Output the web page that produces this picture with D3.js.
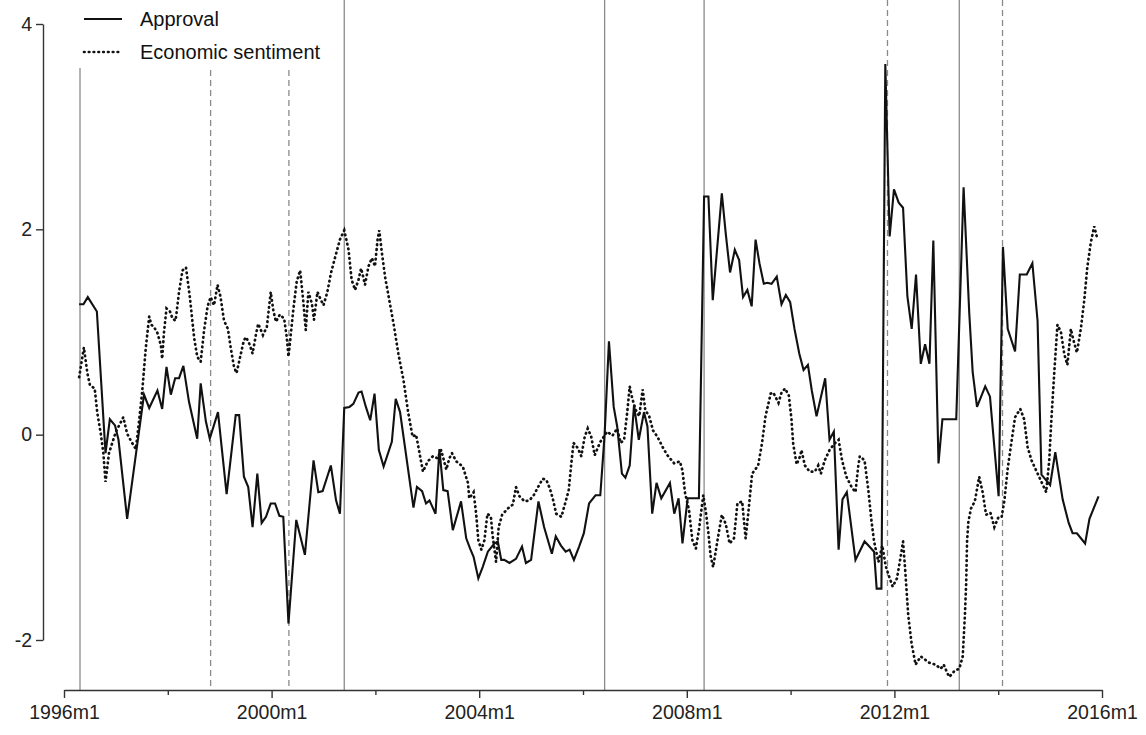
<!DOCTYPE html>
<html>
<head>
<meta charset="utf-8">
<script src="https://cdn.jsdelivr.net/npm/d3@7"></script>
<style>
  body { margin: 0; background: #fff; }
  svg { display: block; font-family: "Liberation Sans", Arial, sans-serif; }
</style>
</head>
<body>
<svg id="chart" width="1146" height="735"></svg>
<script>
// months counted from 1996m1 (0) to 2016m1 (240)
var tickMonths = [0, 48, 96, 144, 192, 240];
var tickLabels = ["1996m1", "2000m1", "2004m1", "2008m1", "2012m1", "2016m1"];
var minorMonths = [24, 72, 120, 168, 216];
var yTicks = [-2, 0, 2, 4];

// elections (solid) and government changes (dashed)
var electionMonths = [3.7, 64.8, 125, 148, 207];
var changeMonths = [33.9, 52, 190.4, 217];

var seriesNames = ["Approval", "Economic sentiment"];

// [month, value]
var approval = [
  [3.5,1.27],[4.5,1.27],[5.5,1.34],[7.6,1.20],[9.6,-0.18],[10.6,0.15],[11.8,0.09],[12.6,-0.05],
  [14.6,-0.82],[18.5,0.39],[19.7,0.26],[21.6,0.43],[22.7,0.25],[23.7,0.66],[24.7,0.39],[25.7,0.55],
  [26.6,0.55],[27.6,0.67],[28.9,0.32],[30.8,-0.04],[31.6,0.50],[32.8,0.13],[33.7,-0.04],[35.6,0.22],
  [37.6,-0.58],[39.7,0.19],[40.5,0.19],[41.6,-0.41],[42.6,-0.51],[43.6,-0.90],[44.7,-0.38],[45.7,-0.86],
  [46.7,-0.80],[47.8,-0.67],[48.8,-0.67],[49.8,-0.79],[50.7,-0.80],[51.9,-1.84],[53.7,-0.83],[55.7,-1.17],
  [57.7,-0.25],[58.8,-0.56],[59.8,-0.55],[61.7,-0.30],[62.9,-0.64],[63.8,-0.77],[64.8,0.26],[66.0,0.27],
  [66.9,0.30],[68.1,0.41],[68.8,0.42],[69.8,0.27],[70.8,0.14],[71.8,0.40],[72.8,-0.15],[73.9,-0.31],
  [75.8,-0.07],[76.7,0.35],[77.7,0.22],[80.8,-0.71],[81.6,-0.51],[82.8,-0.55],[83.7,-0.67],[84.5,-0.64],
  [85.9,-0.77],[86.8,-0.14],[87.7,-0.54],[88.7,-0.55],[89.9,-0.93],[91.8,-0.65],[93.0,-1.01],[93.9,-1.11],
  [94.7,-1.19],[95.8,-1.40],[96.8,-1.29],[98.0,-1.14],[99.5,-1.06],[100.3,-1.04],[101.1,-1.22],[101.8,-1.22],
  [103.0,-1.25],[104.5,-1.21],[105.9,-1.09],[106.8,-1.25],[108.0,-1.22],[109.7,-0.65],[111.0,-0.90],[112.8,-1.16],
  [113.7,-0.99],[114.9,-1.08],[116.0,-1.14],[116.9,-1.12],[117.9,-1.22],[119.1,-1.09],[120.2,-0.96],[121.4,-0.67],
  [122.9,-0.59],[124.0,-0.59],[125.0,0.0],[126.0,0.91],[127.1,0.27],[127.9,0.08],[129.0,-0.38],[129.8,-0.42],
  [130.8,-0.30],[131.8,0.29],[132.9,-0.05],[134.1,0.22],[134.9,0.08],[136.0,-0.77],[137.0,-0.47],[138.1,-0.62],
  [140.1,-0.47],[141.1,-0.77],[142.1,-0.62],[143.0,-1.06],[144.2,-0.62],[146.8,-0.62],[148.0,2.32],[149.0,2.32],
  [150.0,1.31],[152.1,2.35],[153.0,1.96],[154.0,1.58],[155.1,1.80],[156.1,1.70],[157.0,1.34],[158.0,1.41],
  [159.0,1.25],[159.9,1.90],[160.8,1.67],[161.8,1.47],[162.6,1.48],[163.6,1.47],[164.8,1.54],[165.9,1.27],
  [166.9,1.36],[167.9,1.29],[168.9,1.03],[170.0,0.79],[171.0,0.63],[172.0,0.68],[172.9,0.43],[174.0,0.18],
  [176.0,0.55],[177.0,-0.05],[178.0,0.03],[179.1,-1.12],[180.0,-0.63],[181.0,-0.56],[183.0,-1.22],[185.1,-1.04],
  [186.0,-1.08],[187.3,-1.14],[187.9,-1.50],[189.0,-1.50],[189.9,3.61],[190.9,1.93],[191.9,2.39],[193.0,2.26],
  [194.0,2.21],[195.0,1.35],[196.0,1.03],[197.0,1.56],[198.1,0.69],[199.1,0.88],[200.1,0.69],[201.0,1.89],
  [202.2,-0.28],[203.1,0.15],[206.3,0.15],[208.0,2.41],[209.3,1.19],[210.1,0.61],[211.1,0.27],[213.0,0.47],
  [214.1,0.37],[216.1,-0.60],[217.1,1.83],[218.2,1.03],[219.9,0.81],[221.0,1.56],[222.6,1.56],[223.9,1.67],
  [225.1,1.11],[226.0,-0.39],[228.0,-0.49],[229.2,-0.17],[230.9,-0.63],[232.3,-0.86],[233.2,-0.96],[234.2,-0.96],
  [236.1,-1.06],[237.1,-0.82],[239.2,-0.60]
];

var sentiment = [
  [3.5,0.56],[4.6,0.85],[5.4,0.60],[6.0,0.48],[7.1,0.45],[7.7,0.21],[8.5,0.01],[9.1,-0.18],[9.6,-0.46],
  [10.4,-0.18],[12.0,0.03],[13.0,0.11],[13.7,0.17],[14.6,0.01],[15.6,-0.07],[16.6,-0.14],[17.3,0.11],
  [18.1,0.43],[18.9,0.84],[19.7,1.15],[20.2,1.07],[20.8,1.05],[21.6,0.99],[22.4,0.87],[22.7,0.74],[23.1,0.99],
  [23.7,1.23],[24.5,1.20],[25.1,1.13],[25.8,1.11],[26.6,1.39],[27.4,1.60],[28.2,1.63],[29.1,1.34],[30.1,0.94],
  [30.8,0.76],[31.6,0.71],[32.4,1.02],[33.2,1.25],[33.9,1.34],[34.7,1.26],[35.5,1.46],[36.2,1.34],[37.0,1.11],
  [37.9,1.03],[38.5,0.86],[39.3,0.66],[39.9,0.60],[40.9,0.79],[41.6,0.92],[42.1,0.95],[42.9,0.88],[43.6,0.79],
  [44.4,0.98],[44.9,1.08],[46.0,0.97],[46.9,1.05],[47.8,1.39],[48.4,1.21],[49.0,1.10],[49.9,1.17],[50.9,1.13],
  [51.5,0.95],[51.9,0.76],[52.3,0.92],[53.0,1.21],[53.8,1.49],[54.6,1.60],[55.3,1.31],[55.9,1.02],[56.5,1.39],
  [57.3,1.28],[57.8,1.12],[58.6,1.39],[59.2,1.33],[60.0,1.26],[60.9,1.39],[61.7,1.57],[62.7,1.73],[63.8,1.90],
  [64.8,1.99],[65.8,1.80],[66.5,1.51],[67.3,1.41],[68.1,1.51],[68.7,1.62],[69.6,1.46],[70.4,1.64],[71.2,1.72],
  [71.9,1.64],[72.5,1.90],[72.9,1.99],[73.5,1.77],[74.3,1.52],[75.3,1.29],[76.2,1.08],[77.3,0.79],[78.5,0.53],
  [79.6,0.21],[80.6,-0.02],[81.4,0.0],[82.2,-0.18],[83.0,-0.36],[84.1,-0.26],[85.3,-0.21],[86.4,-0.23],
  [87.2,-0.15],[88.4,-0.34],[89.1,-0.23],[89.7,-0.18],[90.7,-0.26],[92.2,-0.31],[93.4,-0.47],[93.7,-0.62],
  [94.7,-0.56],[95.3,-0.77],[95.8,-1.03],[96.5,-1.12],[97.2,-1.03],[97.9,-0.77],[98.7,-0.80],[99.1,-0.98],
  [99.9,-1.24],[100.5,-0.90],[101.3,-0.78],[102.6,-0.72],[103.8,-0.68],[104.5,-0.51],[105.3,-0.60],[106.5,-0.65],
  [107.6,-0.64],[108.6,-0.59],[109.6,-0.51],[110.7,-0.43],[111.5,-0.44],[112.3,-0.52],[113.0,-0.62],[113.8,-0.77],
  [115.0,-0.80],[116.0,-0.65],[116.7,-0.54],[117.3,-0.28],[117.8,-0.08],[118.8,-0.13],[119.6,-0.21],[120.4,-0.02],
  [121.1,0.06],[121.9,-0.02],[122.7,-0.20],[124.0,-0.07],[125.6,0.03],[126.8,-0.01],[127.9,0.06],[128.7,-0.08],
  [129.5,-0.05],[130.2,0.21],[130.8,0.47],[131.4,0.35],[132.2,0.24],[133.0,0.18],[133.8,0.44],[134.4,0.24],
  [135.3,0.18],[136.2,0.04],[137.2,-0.02],[138.4,-0.12],[139.5,-0.20],[141.1,-0.28],[142.4,-0.26],[143.0,-0.35],
  [143.6,-0.57],[144.5,-0.73],[145.3,-1.03],[146.1,-1.11],[146.8,-0.93],[147.8,-0.59],[148.4,-0.75],[149.0,-0.96],
  [149.5,-1.18],[150.1,-1.29],[151.1,-1.03],[152.1,-0.78],[153.0,-0.87],[153.9,-1.06],[154.9,-1.01],[155.7,-0.67],
  [156.8,-0.65],[157.6,-1.01],[158.2,-0.77],[159.1,-0.38],[160.5,-0.30],[161.4,-0.08],[162.2,0.18],[163.4,0.40],
  [164.0,0.41],[165.2,0.31],[165.9,0.41],[166.7,0.45],[167.6,0.38],[168.2,0.15],[168.6,-0.09],[169.4,-0.29],
  [170.2,-0.21],[170.5,-0.15],[171.3,-0.30],[172.4,-0.36],[173.6,-0.36],[174.4,-0.30],[175.0,-0.38],[175.9,-0.25],
  [177.0,-0.15],[178.1,-0.09],[179.1,-0.05],[179.9,-0.25],[180.9,-0.41],[182.1,-0.51],[183.0,-0.56],[183.6,-0.32],
  [184.0,-0.21],[185.1,-0.25],[186.0,-0.55],[186.7,-0.84],[187.3,-1.04],[188.3,-1.24],[189.2,-1.08],[190.0,-1.28],
  [190.6,-1.36],[191.6,-1.48],[192.6,-1.40],[193.4,-1.20],[194.0,-1.04],[194.5,-1.32],[195.2,-1.76],[196.0,-2.04],
  [196.9,-2.24],[198.1,-2.16],[200.0,-2.22],[201.5,-2.24],[202.7,-2.28],[203.4,-2.24],[204.2,-2.32],[204.7,-2.36],
  [205.9,-2.30],[207.0,-2.28],[207.8,-2.16],[208.3,-1.76],[208.6,-1.44],[208.8,-1.04],[209.1,-0.85],[209.7,-0.72],
  [210.6,-0.65],[211.6,-0.41],[212.4,-0.56],[213.2,-0.78],[214.2,-0.76],[215.1,-0.90],[216.1,-0.80],[216.8,-0.80],
  [217.4,-0.65],[218.2,-0.33],[219.0,-0.09],[219.9,0.17],[221.1,0.25],[222.0,0.15],[222.8,-0.12],[223.7,-0.25],
  [224.9,-0.36],[226.0,-0.46],[227.1,-0.56],[227.8,-0.25],[228.3,0.15],[229.0,0.63],[229.7,1.07],[230.5,1.00],
  [231.3,0.78],[232.0,0.68],[232.8,1.03],[233.4,0.92],[234.2,0.80],[235.1,1.03],[235.9,1.31],[236.6,1.63],
  [237.4,1.87],[238.2,2.03],[238.9,1.91]
];

var svg = d3.select("#chart");
var x = d3.scaleLinear().domain([0, 240]).range([64, 1102]);
var y = d3.scaleLinear().domain([-2, 4]).range([640, 24]);
var axisY = 690;
var refColor = "#8a8a8a";
var dotDash = "0.6,4.2";

// reference lines
var refs = svg.append("g").attr("id", "refs");
refs.selectAll("line.elec")
    .data(electionMonths)
    .enter().append("line")
    .attr("class", "elec")
    .attr("x1", d => x(d)).attr("x2", d => x(d))
    .attr("y1", 0).attr("y2", axisY)
    .attr("stroke", refColor).attr("stroke-width", 1.3);
refs.selectAll("line.chg")
    .data(changeMonths)
    .enter().append("line")
    .attr("class", "chg")
    .attr("x1", d => x(d)).attr("x2", d => x(d))
    .attr("y1", 0).attr("y2", axisY)
    .attr("stroke", refColor).attr("stroke-width", 1.3)
    .attr("stroke-dasharray", "6,4");

var line = d3.line().x(d => x(d[0])).y(d => y(d[1]));

svg.append("path")
    .datum(sentiment)
    .attr("fill", "none")
    .attr("stroke", "#111")
    .attr("stroke-width", 2.7)
    .attr("stroke-linecap", "round")
    .attr("stroke-dasharray", dotDash)
    .attr("d", line);

svg.append("path")
    .datum(approval)
    .attr("fill", "none")
    .attr("stroke", "#111")
    .attr("stroke-width", 2.1)
    .attr("stroke-linejoin", "miter")
    .attr("d", line);

// axes
var gy = svg.append("g")
    .attr("transform", "translate(43,0)")
    .call(d3.axisLeft(y).tickValues(yTicks).tickFormat(d => d).tickSize(7).tickSizeOuter(0).tickPadding(4));
var gx = svg.append("g")
    .attr("transform", "translate(0," + axisY + ")")
    .call(d3.axisBottom(x).tickValues(tickMonths).tickFormat((d, i) => tickLabels[i]).tickSize(8).tickSizeOuter(0).tickPadding(7));
svg.append("g")
    .attr("transform", "translate(0," + axisY + ")")
    .call(d3.axisBottom(x).tickValues(minorMonths).tickFormat("").tickSize(5).tickSizeOuter(0))
    .select(".domain").remove();

svg.selectAll(".tick text")
    .style("font-family", "'Liberation Sans', Arial, sans-serif")
    .style("font-size", "19.5px")
    .attr("fill", "#222");
svg.selectAll(".domain, .tick line").attr("stroke", "#333").attr("stroke-width", 1.4);

// legend
var legend = svg.append("g").attr("id", "legend");
legend.append("rect")
    .attr("x", 68).attr("y", 0).attr("width", 268).attr("height", 68)
    .attr("fill", "#fff");
var items = legend.selectAll("g.item")
    .data(seriesNames)
    .enter().append("g")
    .attr("class", "item")
    .attr("transform", (d, i) => "translate(0," + (19 + i * 33) + ")");
items.append("line")
    .attr("x1", 84).attr("x2", 122).attr("y1", 0).attr("y2", 0)
    .attr("stroke", "#111")
    .attr("stroke-width", (d, i) => i == 0 ? 2.1 : 2.7)
    .attr("stroke-linecap", (d, i) => i == 0 ? "butt" : "round")
    .attr("stroke-dasharray", (d, i) => i == 0 ? null : dotDash);
items.append("text")
    .attr("x", 140).attr("y", 0).attr("dy", "0.35em")
    .style("font-size", "20px")
    .attr("fill", "#111")
    .text(d => d);
</script>
</body>
</html>
